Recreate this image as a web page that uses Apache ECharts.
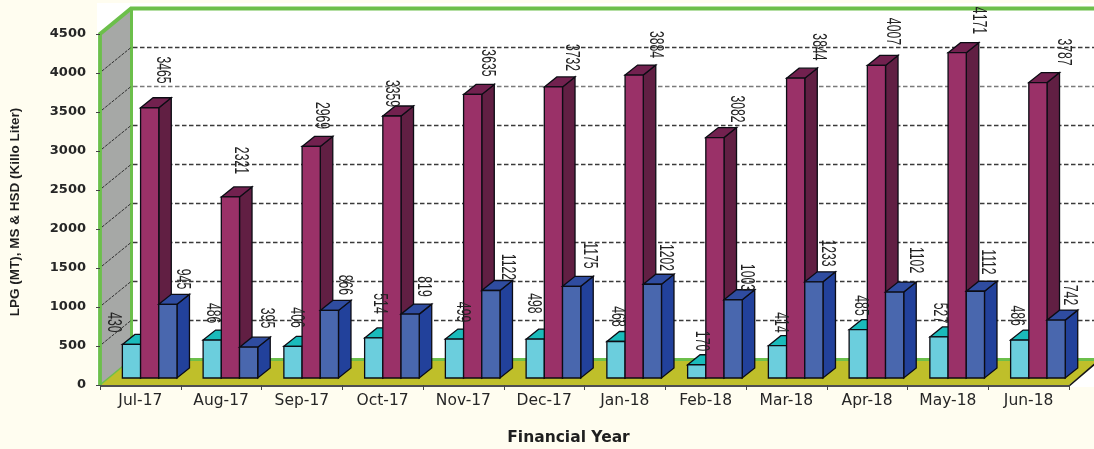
<!DOCTYPE html>
<html>
<head>
<meta charset="utf-8">
<style>html,body{margin:0;padding:0;background:#FFFDF0}#c{width:1094px;height:449px}</style>
<script src="https://cdn.jsdelivr.net/npm/echarts@6/dist/echarts.min.js"></script>
</head>
<body>
<div id="c"></div>
<script>
// ---- data ----
const categories = ['Jul-17','Aug-17','Sep-17','Oct-17','Nov-17','Dec-17','Jan-18','Feb-18','Mar-18','Apr-18','May-18','Jun-18'];
const yTicks = [500,1000,1500,2000,2500,3000,3500,4000];
const lpgBars = [430,486,406,514,499,498,468,170,414,619,527,486];
const msBars  = [3465,2321,2969,3359,3635,3732,3884,3082,3844,4007,4171,3787];
const hsdBars = [945,395,866,819,1122,1175,1202,1003,1233,1102,1112,742];
const lpgLabels = [430,486,406,514,499,498,468,170,414,485,527,486];
const msLabels  = [3465,2321,2969,3359,3635,3732,3884,3082,3844,4007,4171,3787];
const hsdLabels = [945,395,866,819,1122,1175,1202,1003,1233,1102,1112,742];

// ---- label placement relative to each bar (style, not data) ----
const lpgLabelDx = [-8.6,9.6,13,15,17.4,7.6,11,14,12.4,11.6,10,6];
const lpgLabelLift = [12,17,18.8,24.4,17,25.7,15,13.7,13.2,14.2,13.9,14.5];
const msLabelDx = [21.9,19.4,19.7,9,24.2,27.4,30.7,31,32.2,25.4,30.7,35];
const msLabelLift = [27.7,26.5,20.9,12.5,21.5,19.4,20.5,18.6,21.2,24,22.2,20.6];
const hsdLabelDx = [24,27.25,24.5,22.75,26,27.25,22.5,22.75,23,30.25,21.5,22.75];
const hsdLabelLift = [15.3,19.2,15.5,17.6,13.5,20.9,16.7,12.3,18.8,22,19.3,15.1];

// ---- 3D look ----
const WALL_DX = 31, WALL_DY = -25.5;   // back wall offset
const PLANE_DX = 9.3, PLANE_DY = -7;   // plane the bars stand on
const DEPTH_DX = 12.5, DEPTH_DY = -10; // bar depth
const BAR_FRAC = 0.2254;               // bar width / band width
const GREEN = '#6CBF4B';
const lpgColors = {face:'#6BCEDD', top:'#1ABBBB', side:'#1A9CA8'};
const msColors  = {face:'#9A3168', top:'#72214F', side:'#611F43'};
const hsdColors = {face:'#4967AE', top:'#2F4CA0', side:'#22419B'};
const OUTLINE = {stroke:'#0c0c14', lineWidth:1.3, lineJoin:'miter'};

function poly(points, fill, stroke){
  return {type:'polygon', shape:{points}, style:Object.assign({fill}, stroke || {})};
}
function barLeft(api, cat, idx){
  const w = api.size([1,0])[0] * BAR_FRAC;
  return api.coord([cat,0])[0] + PLANE_DX - 1.5*w + idx*w;
}
function render3dBar(idx, colors){
  return function(params, api){
    const cat = api.value(0), val = api.value(1);
    const w = api.size([1,0])[0] * BAR_FRAC;
    const x = barLeft(api, cat, idx), r = x + w;
    const base = api.coord([cat,0])[1] + PLANE_DY;
    const top = api.coord([cat,val])[1] + PLANE_DY;
    return {type:'group', children:[
      poly([[r,top],[r+DEPTH_DX,top+DEPTH_DY],[r+DEPTH_DX,base+DEPTH_DY],[r,base]], colors.side, OUTLINE),
      poly([[x,top],[x+DEPTH_DX,top+DEPTH_DY],[r+DEPTH_DX,top+DEPTH_DY],[r,top]], colors.top, OUTLINE),
      poly([[x,top],[r,top],[r,base],[x,base]], colors.face, OUTLINE)
    ]};
  };
}
function renderLabel(idx, dxs, lifts){
  return function(params, api){
    const cat = api.value(0), val = api.value(1);
    const x = barLeft(api, cat, idx) + dxs[cat];
    const backTop = api.coord([cat,val])[1] + PLANE_DY + DEPTH_DY;
    return {
      type:'text', x:x, y:backTop - lifts[cat], rotation:-Math.PI/2, scaleX:0.72, scaleY:1.2,
      style:{text:String(api.value(2)), fontFamily:'Liberation Sans', fontSize:17, fill:'#222222',
             align:'center', verticalAlign:'middle'}
    };
  };
}
function renderFrame(params, api){
  const left = params.coordSys.x, right = left + params.coordSys.width;
  const y0 = api.coord([0,0])[1], yT = api.coord([0,4500])[1];
  const far = 1110;
  return {type:'group', children:[
    {type:'rect', shape:{x:left-3, y:yT-31, width:far-left, height:y0-yT+33}, style:{fill:'#ffffff'}},
    poly([[left,yT],[left+WALL_DX,yT+WALL_DY],[left+WALL_DX,y0+WALL_DY],[left,y0]], '#A6A8A6'),
    poly([[left,y0],[left+WALL_DX,y0+WALL_DY],[far,y0+WALL_DY],[right+WALL_DX,y0+WALL_DY],[right,y0]], '#BFBF2A'),
    {type:'polyline', shape:{points:[[left,y0+1],[right,y0+1],[right+WALL_DX,y0+WALL_DY]]}, style:{stroke:'#151515', lineWidth:1.6, fill:null}},
    {type:'polyline', shape:{points:[[left,y0],[left+WALL_DX,y0+WALL_DY]]}, style:{stroke:GREEN, lineWidth:1.5, fill:null}},
    {type:'polyline', shape:{points:[[left,y0],[left,yT],[left+WALL_DX,yT+WALL_DY],[far,yT+WALL_DY]]}, style:{stroke:GREEN, lineWidth:3.8, fill:null, lineJoin:'miter'}},
    {type:'line', shape:{x1:left+WALL_DX+0.5,y1:yT+WALL_DY,x2:left+WALL_DX+0.5,y2:y0+WALL_DY}, style:{stroke:GREEN, lineWidth:3}},
    {type:'line', shape:{x1:left+WALL_DX,y1:y0+WALL_DY,x2:far,y2:y0+WALL_DY}, style:{stroke:GREEN, lineWidth:3}}
  ]};
}
function renderGridline(params, api){
  const left = params.coordSys.x;
  const y = api.coord([0,api.value(0)])[1];
  const grey = api.value(0) === 3500;
  return {type:'group', children:[
    {type:'line', shape:{x1:left+2,y1:y-2,x2:left+WALL_DX,y2:y+WALL_DY}, style:{stroke:'#222', lineWidth:0.9, lineDash:[3,1.2]}},
    {type:'line', shape:{x1:left+WALL_DX+2,y1:y+WALL_DY,x2:1110,y2:y+WALL_DY}, style:{stroke:grey?'#7a7a7a':'#3a3a3a', lineWidth:1.3, lineDash:[4.5,2.5]}}
  ]};
}

const chart = echarts.init(document.getElementById('c'), null, {renderer:'canvas'});
const barSeries = (name, idx, vals, colors) => ({
  type:'custom', name, z:3, silent:true, renderItem:render3dBar(idx, colors),
  encode:{x:0,y:1}, data:vals.map((v,i)=>[i,v])
});
const labelSeries = (name, idx, vals, labels, dxs, lifts) => ({
  type:'custom', name, z:4, silent:true, renderItem:renderLabel(idx, dxs, lifts),
  encode:{x:0,y:1}, data:vals.map((v,i)=>[i,v,labels[i]])
});
chart.setOption({
  backgroundColor:'#FFFDF0',
  animation:false,
  grid:{left:100, top:34, width:969, height:351, containLabel:false, outerBoundsMode:'none'},
  xAxis:{
    type:'category', data:categories, z:6,
    axisLine:{show:false},
    axisTick:{show:true, alignWithLabel:false, length:5, lineStyle:{color:'#444'}},
    axisLabel:{interval:0, margin:8, fontFamily:'DejaVu Sans', fontSize:15.5, color:'#262626'},
    name:'Financial Year', nameLocation:'middle', nameGap:45,
    nameTextStyle:{fontFamily:'DejaVu Sans', fontWeight:'bold', fontSize:15.5, color:'#1f1f1f', padding:[0,32,0,0]}
  },
  yAxis:{
    type:'value', min:0, max:4500, interval:500, z:6,
    splitLine:{show:false},
    axisLine:{show:false},
    axisTick:{show:true, length:4, lineStyle:{color:'#444'}},
    axisLabel:{margin:14, fontFamily:'DejaVu Sans', fontWeight:'bold', fontSize:13, color:'#262626', formatter:function(v){return String(v);}},
    name:'LPG (MT), MS & HSD (Killo Liter)', nameLocation:'middle', nameRotate:90, nameGap:78,
    nameTextStyle:{fontFamily:'Liberation Sans', fontWeight:'bold', fontSize:13.5, color:'#1f1f1f', padding:[0,5,0,0]}
  },
  series:[
    {type:'custom', name:'Frame', z:1, silent:true, renderItem:renderFrame, encode:{x:0,y:1}, data:[[0,0]]},
    {type:'custom', name:'Gridlines', z:2, silent:true, renderItem:renderGridline, encode:{y:0}, data:yTicks.map(v=>[v])},
    barSeries('LPG', 0, lpgBars, lpgColors),
    barSeries('MS', 1, msBars, msColors),
    barSeries('HSD', 2, hsdBars, hsdColors),
    labelSeries('LPG labels', 0, lpgBars, lpgLabels, lpgLabelDx, lpgLabelLift),
    labelSeries('MS labels', 1, msBars, msLabels, msLabelDx, msLabelLift),
    labelSeries('HSD labels', 2, hsdBars, hsdLabels, hsdLabelDx, hsdLabelLift)
  ]
});
</script>
</body>
</html>
